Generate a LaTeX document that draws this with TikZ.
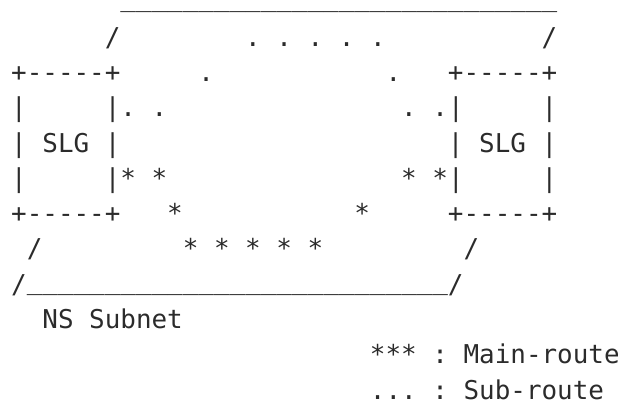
\documentclass[tikz,border=0pt]{standalone}
\usepackage{fontspec}
\setmonofont{DejaVu Sans Mono}[WordSpace={1,0,0}]
\definecolor{txt}{HTML}{2B2B2B}
\newcommand\asciifont{\ttfamily\fontsize{12.96pt}{15pt}\selectfont}
\tikzset{asc/.style={anchor=base west, inner sep=0pt, outer sep=0pt, font=\asciifont, text=txt}}
% #1 name, #2 column, #3 row, #4 text
\newcommand\seg[4]{\node[asc] (#1) at ({11.2+#2*15.6},{10.8+35.3*#3}) {#4};}
\newcommand\useg[4]{\node[asc] (#1) at ({11.2+#2*15.6},{6.8+35.3*#3}) {#4};}
\newcommand\usc{\_\_\_\_\_\_\_}
\begin{document}
\begin{tikzpicture}[x=0.5pt,y=-0.5pt]
\useasboundingbox (0,0) rectangle (618,404);
% top edge of the subnet
\useg{topedge}{7}{0}{\usc\usc\usc\usc}
\seg{tl}{6}{1}{/}
\seg{subtop}{15}{1}{. . . . .}
\seg{tr}{34}{1}{/}
% box tops
\seg{lboxtop}{0}{2}{+-----+}
\seg{subl}{12}{2}{.}
\seg{subr}{24}{2}{.}
\seg{rboxtop}{28}{2}{+-----+}
% row 3
\seg{lsideA}{0}{3}{|}
\seg{lsubA}{6}{3}{|. .}
\seg{rsubA}{25}{3}{. .|}
\seg{rsideA}{34}{3}{|}
% SLG labels
\seg{lslg}{0}{4}{| SLG |}
\seg{rslg}{28}{4}{| SLG |}
% row 5
\seg{lsideB}{0}{5}{|}
\seg{lmainA}{6}{5}{|* *}
\seg{rmainA}{25}{5}{* *|}
\seg{rsideB}{34}{5}{|}
% box bottoms
\seg{lboxbot}{0}{6}{+-----+}
\seg{mainl}{10}{6}{*}
\seg{mainr}{22}{6}{*}
\seg{rboxbot}{28}{6}{+-----+}
% row 7
\seg{bl}{1}{7}{/}
\seg{mainbot}{11}{7}{* * * * *}
\seg{br}{29}{7}{/}
% bottom edge
\seg{bbl}{0}{8}{/}
\useg{botedge}{1}{8}{\usc\usc\usc\_\_\_\_\_\_}
\seg{bbr}{28}{8}{/}
% labels
\seg{nslabel}{2}{9}{NS Subnet}
\seg{legmain}{23}{10}{*** : Main-route}
\seg{legsub}{23}{11}{... : Sub-route}
\end{tikzpicture}
\end{document}
